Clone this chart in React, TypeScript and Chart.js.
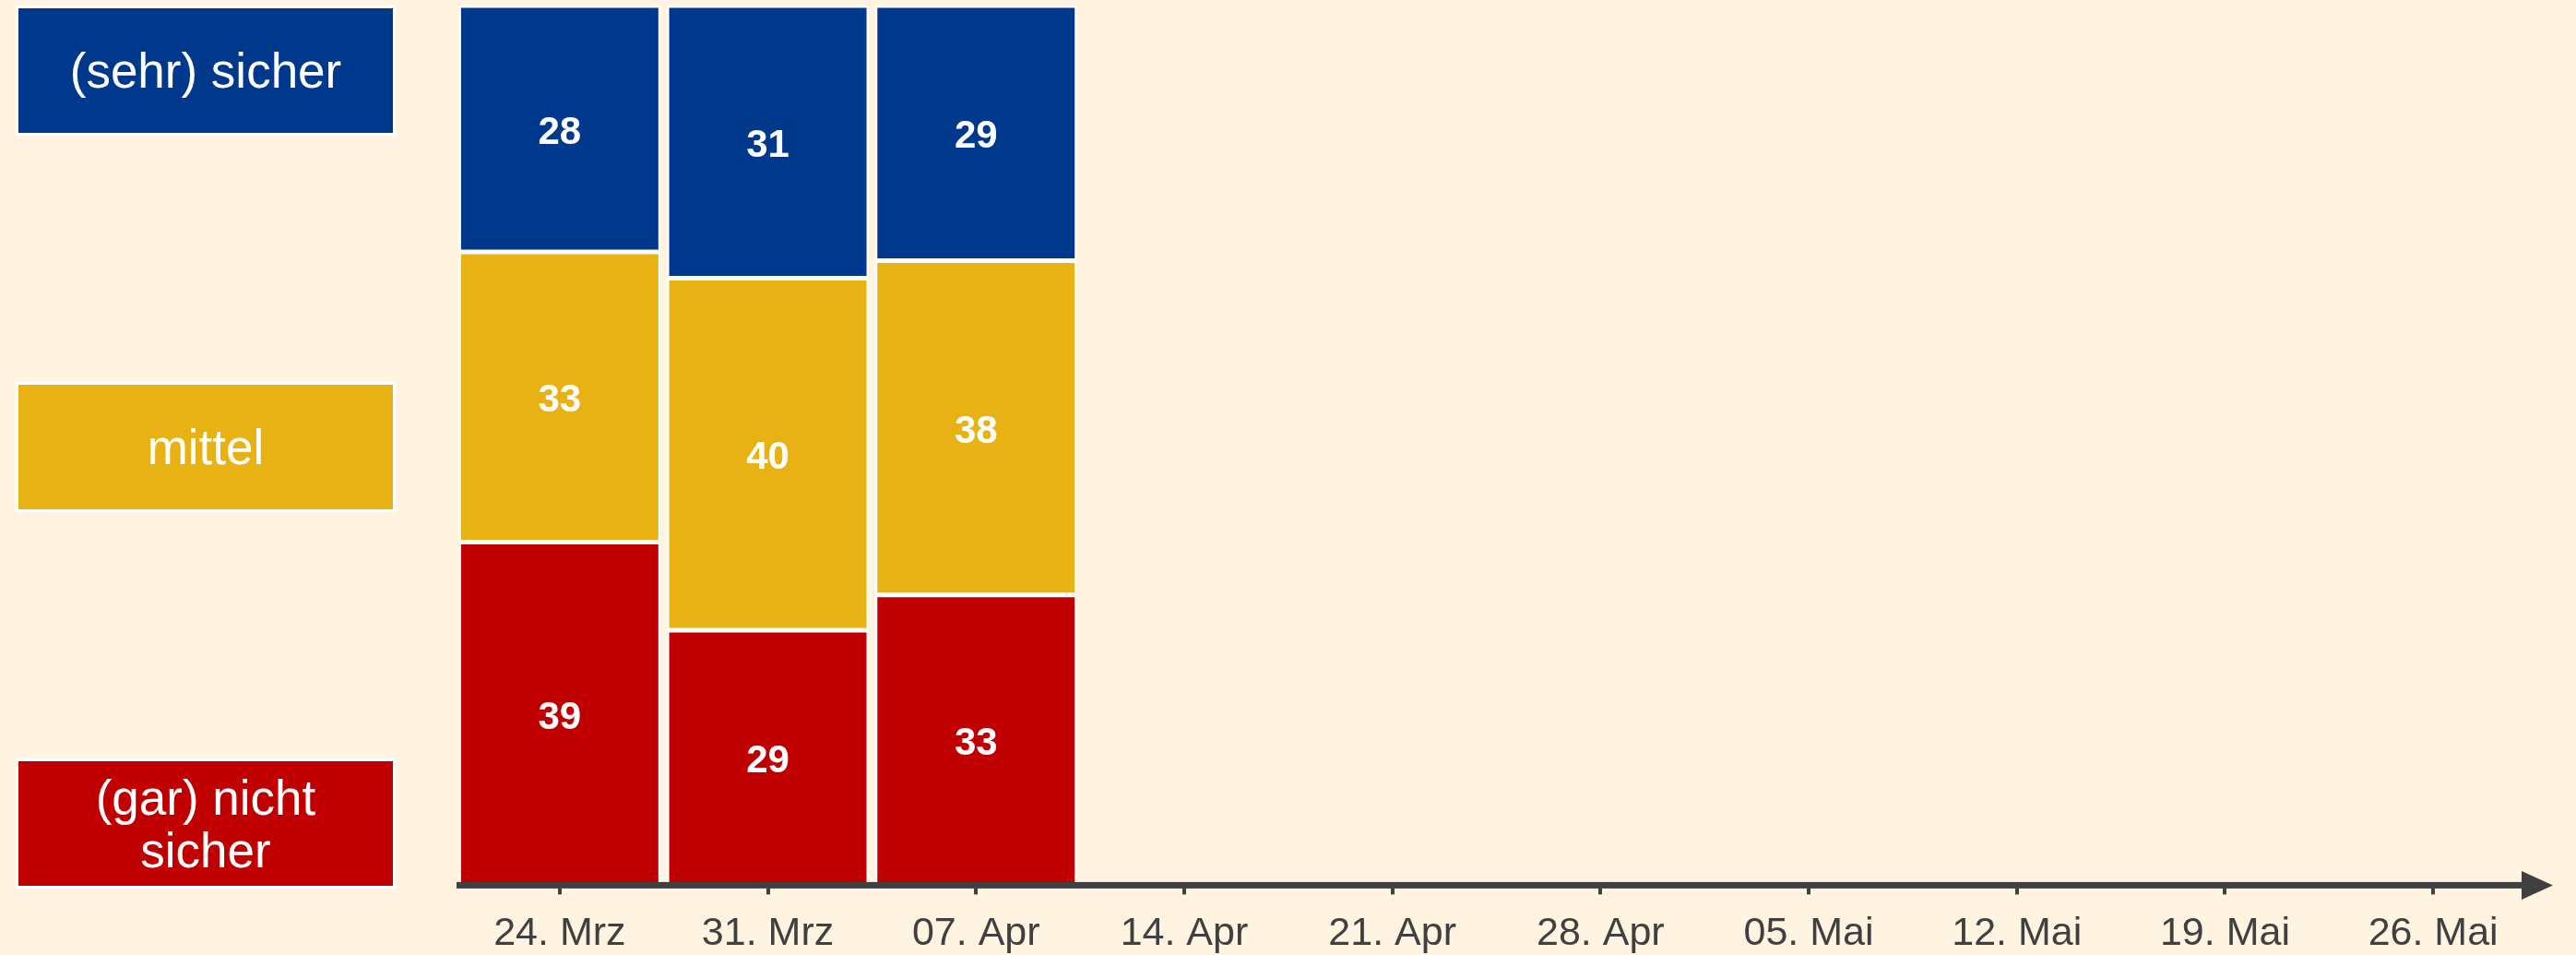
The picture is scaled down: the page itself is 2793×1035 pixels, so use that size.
import React, { useEffect, useRef } from "react";
import { Chart, registerables } from "chart.js";

Chart.register(...registerables);

const categories = [
  "24. Mrz", "31. Mrz", "07. Apr", "14. Apr", "21. Apr",
  "28. Apr", "05. Mai", "12. Mai", "19. Mai", "26. Mai",
];
const nichtSicher = [39, 29, 33, null, null, null, null, null, null, null];
const mittel = [33, 40, 38, null, null, null, null, null, null, null];
const sehrSicher = [28, 31, 29, null, null, null, null, null, null, null];

const seriesNames = ["(gar) nicht sicher", "mittel", "(sehr) sicher"];
const BLUE = "#00388C";
const YELLOW = "#E9B214";
const RED = "#C00000";
const BG = "#FFF3E2";
const AXIS = "#404040";
const FONT = "'Liberation Sans', Arial, sans-serif";

const overlayPlugin = {
  id: "overlay",
  afterDatasetsDraw(chart: any) {
    const ctx = chart.ctx;
    const area = chart.chartArea;
    const xs = chart.scales.x;
    ctx.save();
    // data labels
    ctx.fillStyle = "#FFFFFF";
    ctx.font = "bold 42px " + FONT;
    ctx.textAlign = "center";
    ctx.textBaseline = "middle";
    chart.data.datasets.forEach((ds: any, di: number) => {
      const meta = chart.getDatasetMeta(di);
      meta.data.forEach((el: any, i: number) => {
        const v = ds.data[i];
        if (v === null || v === undefined) return;
        const p = el.getProps(["x", "y", "base"], true);
        ctx.fillText(String(v), p.x, (p.y + p.base) / 2 + 4.5);
      });
    });
    // axis line with arrow
    const yAxis = area.bottom;
    const x0 = area.left + 1;
    const tipX = area.right + 17;
    const headStart = tipX - 34;
    ctx.fillStyle = AXIS;
    ctx.fillRect(x0, yAxis - 3.5, headStart - x0 + 1, 7);
    ctx.beginPath();
    ctx.moveTo(headStart, yAxis - 15.5);
    ctx.lineTo(tipX, yAxis);
    ctx.lineTo(headStart, yAxis + 15.5);
    ctx.closePath();
    ctx.fill();
    // tick marks
    categories.forEach((_, i) => {
      const px = xs.getPixelForValue(i);
      ctx.fillRect(Math.round(px) - 2, yAxis + 3, 4, 7);
    });
    ctx.restore();
  },
};

function LegendBox(props: { top: number; color: string; children: any }) {
  return (
    <div
      style={{
        position: "absolute",
        left: 17,
        top: props.top,
        width: 412,
        height: 141,
        boxSizing: "border-box",
        border: "3px solid #FFFFFF",
        background: props.color,
        color: "#FFFFFF",
        fontFamily: FONT,
        fontSize: 53,
        lineHeight: "57px",
        display: "flex",
        alignItems: "center",
        justifyContent: "center",
        textAlign: "center",
      }}
    >
      {props.children}
    </div>
  );
}

export default function App() {
  const canvasRef = useRef<HTMLCanvasElement | null>(null);

  useEffect(() => {
    const canvas = canvasRef.current;
    if (!canvas) return;
    const common = {
      borderColor: "#FFFFFF",
      borderWidth: 2.5,
      borderSkipped: false,
      barPercentage: 0.97,
      categoryPercentage: 1.0,
    };
    const chart = new Chart(canvas, {
      type: "bar",
      data: {
        labels: categories,
        datasets: [
          { label: seriesNames[0], data: nichtSicher, backgroundColor: RED, ...common },
          { label: seriesNames[1], data: mittel, backgroundColor: YELLOW, ...common },
          { label: seriesNames[2], data: sehrSicher, backgroundColor: BLUE, ...common },
        ],
      } as any,
      options: {
        responsive: false,
        animation: false,
        devicePixelRatio: 1,
        layout: { padding: { left: 494, right: 42, top: 6, bottom: 0 } },
        plugins: {
          legend: { display: false },
          tooltip: { enabled: false },
        },
        scales: {
          x: {
            stacked: true,
            grid: { display: false, drawTicks: false },
            border: { display: false },
            ticks: {
              autoSkip: false,
              maxRotation: 0,
              padding: 27,
              color: AXIS,
              font: { family: FONT, size: 43 },
            },
          },
          y: {
            stacked: true,
            display: false,
            min: 0,
            max: 100,
          },
        },
      } as any,
      plugins: [overlayPlugin],
    });
    return () => chart.destroy();
  }, []);

  return (
    <div
      style={{
        position: "fixed",
        left: 0,
        top: 0,
        width: 2793,
        height: 1035,
        overflow: "hidden",
        background: BG,
      }}
    >
      <canvas
        ref={canvasRef}
        width={2793}
        height={1065}
        style={{ position: "absolute", left: 0, top: 0, width: 2793, height: 1065 }}
      />
      <LegendBox top={6} color={BLUE}>(sehr) sicher</LegendBox>
      <LegendBox top={414} color={YELLOW}>mittel</LegendBox>
      <LegendBox top={822} color={RED}>
        (gar) nicht
        <br />
        sicher
      </LegendBox>
    </div>
  );
}
